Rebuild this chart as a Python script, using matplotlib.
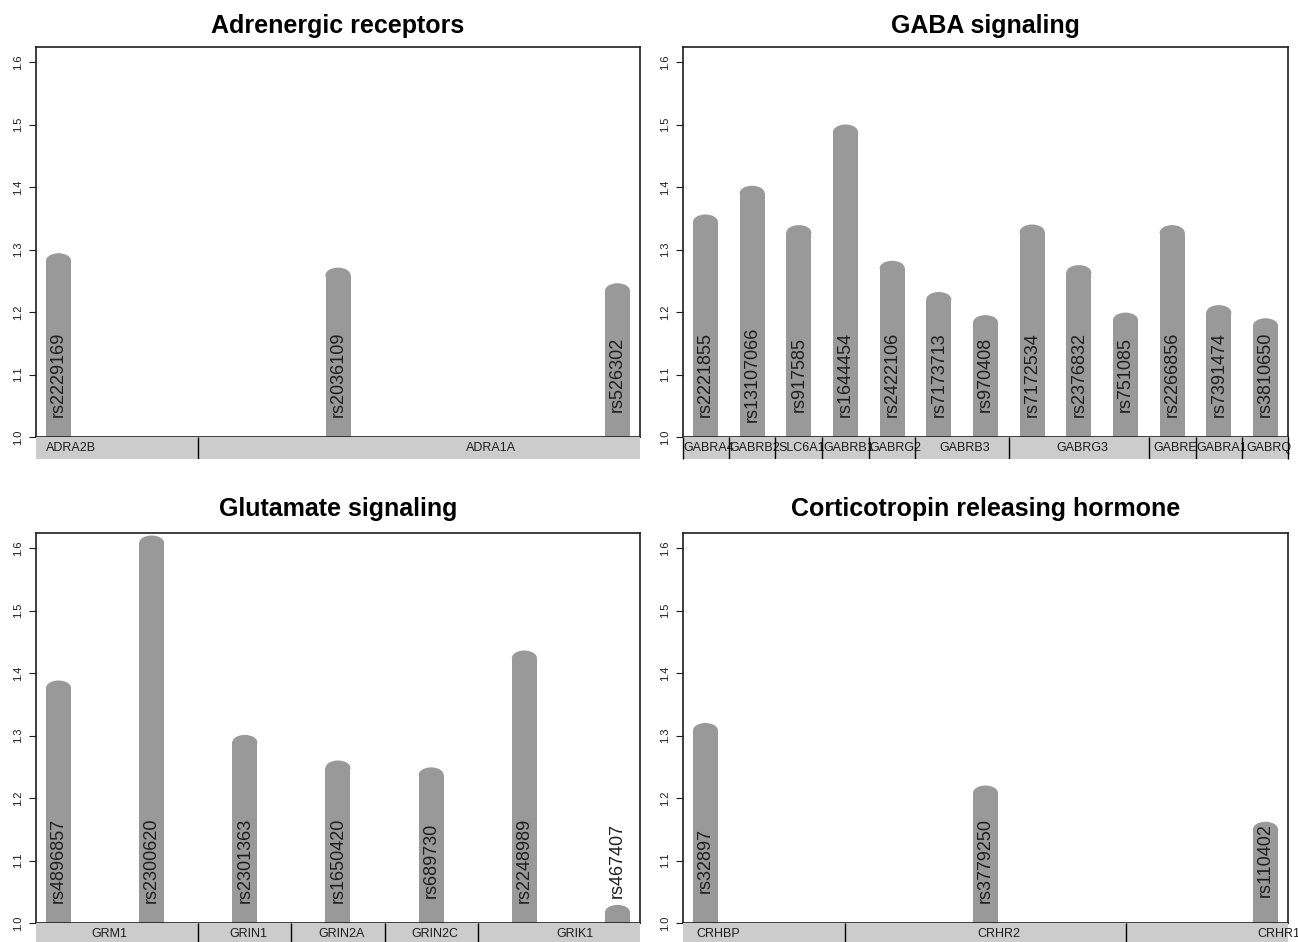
import numpy as np
import matplotlib
matplotlib.use("Agg")
import matplotlib.pyplot as plt
from matplotlib.patches import Ellipse, Rectangle

plt.rcParams['font.family'] = ['Liberation Sans', 'DejaVu Sans']

# ---------------- data ----------------
adr_title = "Adrenergic receptors"
adr_snps = ["rs2229169", "rs2036109", "rs526302"]
adr_vals = [1.282, 1.259, 1.234]
adr_genes = ["ADRA2B", "ADRA1A", "ADRA1A"]

gaba_title = "GABA signaling"
gaba_snps = ["rs2221855", "rs13107066", "rs917585", "rs1644454", "rs2422106",
             "rs7173713", "rs970408", "rs7172534", "rs2376832", "rs751085",
             "rs2266856", "rs7391474", "rs3810650"]
gaba_vals = [1.344, 1.390, 1.327, 1.488, 1.270, 1.220, 1.183, 1.328, 1.263,
             1.187, 1.327, 1.199, 1.178]
gaba_genes = ["GABRA4", "GABRB2", "SLC6A1", "GABRB1", "GABRG2", "GABRB3", "GABRB3",
              "GABRG3", "GABRG3", "GABRG3", "GABRE", "GABRA1", "GABRQ"]

glu_title = "Glutamate signaling"
glu_snps = ["rs4896857", "rs2300620", "rs2301363", "rs1650420", "rs689730",
            "rs2248989", "rs467407"]
glu_vals = [1.376, 1.608, 1.289, 1.248, 1.237, 1.424, 1.017]
glu_genes = ["GRM1", "GRM1", "GRIN1", "GRIN2A", "GRIN2C", "GRIK1", "GRIK1"]

crh_title = "Corticotropin releasing hormone"
crh_snps = ["rs32897", "rs3779250", "rs110402"]
crh_vals = [1.308, 1.208, 1.150]
crh_genes = ["CRHBP", "CRHR2", "CRHR1"]

yticks = [1.0, 1.1, 1.2, 1.3, 1.4, 1.5, 1.6]

# ---------------- styling / layout ----------------
W, H = 1298, 942
BAR = "#999999"
STRIP = "#cccccc"
INK = "#1e1e1e"
BAR_PX = 25.0
MARGIN_PX = 22.5
DOME_PX = 7.5
STRIP_PX = 22.0
PX_PER_UNIT = 625.0
YMIN = 1.0

panels = [
    dict(title=adr_title, snps=adr_snps, vals=adr_vals, genes=adr_genes,
         rect=(36, 47, 640, 437), lab_off=13, outer=False, pad=10),
    dict(title=gaba_title, snps=gaba_snps, vals=gaba_vals, genes=gaba_genes,
         rect=(683, 47, 1288, 437), lab_off=3, outer=True, pad=10),
    dict(title=glu_title, snps=glu_snps, vals=glu_vals, genes=glu_genes,
         rect=(36, 533, 640, 923), lab_off=4, outer=False, pad=12),
    dict(title=crh_title, snps=crh_snps, vals=crh_vals, genes=crh_genes,
         rect=(683, 533, 1288, 923), lab_off=13, outer=False, pad=12),
]

fig = plt.figure(figsize=(W / 100, H / 100), dpi=100)

for p in panels:
    x0, y0, x1, y1 = p["rect"]
    ax = fig.add_axes([x0 / W, 1 - y1 / H, (x1 - x0) / W, (y1 - y0) / H])
    vals = np.array(p["vals"])
    n = len(vals)
    spacing = (x1 - x0 - 2 * MARGIN_PX) / (n - 1)
    m = MARGIN_PX / spacing
    xpos = np.arange(n)
    xlim = (-m, n - 1 + m)
    ax.set_xlim(*xlim)
    ymax = YMIN + (y1 - y0) / PX_PER_UNIT
    ax.set_ylim(YMIN, ymax)
    bw = BAR_PX / spacing
    dh = DOME_PX / PX_PER_UNIT

    ax.bar(xpos, vals - YMIN, bottom=YMIN, width=bw, color=BAR, linewidth=0, zorder=2)
    for xi, v in zip(xpos, vals):
        ax.add_patch(Ellipse((xi, v), bw, 2 * dh, facecolor=BAR, edgecolor="none", zorder=2))
    for xi, s in zip(xpos, p["snps"]):
        ax.text(xi, 1.10, s, rotation=90, ha="center", va="center",
                fontsize=13, color=INK, zorder=3)

    ax.set_xticks([])
    ax.set_yticks(yticks)
    ax.set_yticklabels([f"{t:.1f}" for t in yticks], rotation=90, va="center")
    ax.tick_params(axis="y", length=5, width=0.8, pad=4, labelsize=8,
                   color=INK, labelcolor=INK)
    for sp in ax.spines.values():
        sp.set_linewidth(1.2)
        sp.set_color(INK)
    ax.set_title(p["title"], fontsize=18, fontweight="bold", pad=p["pad"], color="black")

    # gene strip
    sax = fig.add_axes([x0 / W, 1 - (y1 + STRIP_PX) / H, (x1 - x0) / W, STRIP_PX / H])
    sax.set_xlim(*xlim)
    sax.set_ylim(0, 1)
    sax.set_axis_off()
    sax.add_patch(Rectangle((xlim[0], 0), xlim[1] - xlim[0], 1,
                            facecolor=STRIP, edgecolor="none", zorder=1))
    genes = p["genes"]
    runs = []
    start = 0
    for i in range(1, n + 1):
        if i == n or genes[i] != genes[start]:
            runs.append((genes[start], start, i - 1))
            start = i
    for k, (g, a, b) in enumerate(runs):
        left = xlim[0] if k == 0 else a - 0.5
        right = xlim[1] if k == len(runs) - 1 else b + 0.5
        if k > 0:
            sax.plot([left, left], [0, 1], color="black", lw=1.0, zorder=3,
                     solid_capstyle="butt")
        cx = (a + b) / 2 + p["lab_off"] / spacing
        t = sax.text(cx, 0.5, g, ha="center", va="center", fontsize=9,
                     color=INK, zorder=2)
        clip = Rectangle((left, 0), right - left, 1, transform=sax.transData)
        t.set_clip_path(clip)
    if p["outer"]:
        for xe in xlim:
            sax.plot([xe, xe], [0, 1], color="black", lw=1.0, zorder=3,
                     clip_on=False, solid_capstyle="butt")

fig.savefig("out.png", dpi=100)
